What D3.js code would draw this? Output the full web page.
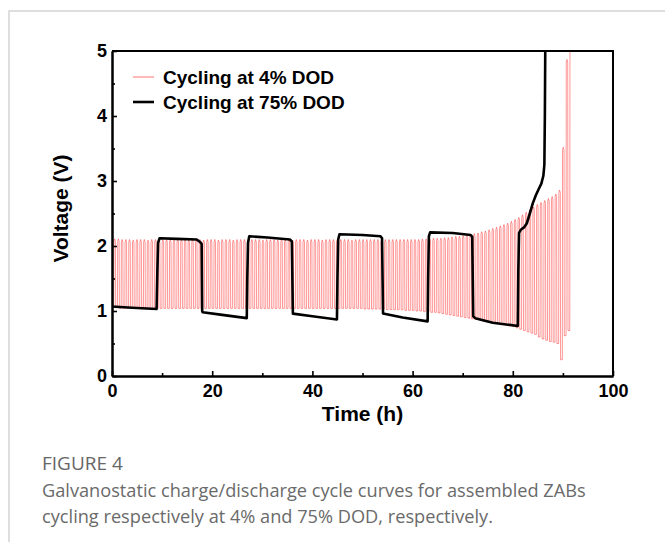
<!DOCTYPE html>
<html>
<head>
<meta charset="utf-8">
<script src="https://cdn.jsdelivr.net/npm/d3@7"></script>
<style>
  body { margin: 0; background: #fff; }
  svg text { font-family: "Liberation Sans", Arial, sans-serif; }
</style>
</head>
<body>
<script>
// 4% DOD: one entry per cycle, cycle length in hours
var cycleHours = 0.74;
var dod4Charge = [
    2.11, 2.11, 2.10, 2.10, 2.10, 2.09, 2.10, 2.10, 2.10, 2.09,
    2.10, 2.10, 2.09, 2.10, 2.10, 2.10, 2.09, 2.10, 2.10, 2.10,
    2.09, 2.10, 2.10, 2.10, 2.09, 2.10, 2.10, 2.10, 2.09, 2.10,
    2.10, 2.10, 2.09, 2.10, 2.10, 2.10, 2.09, 2.10, 2.10, 2.10,
    2.09, 2.10, 2.10, 2.10, 2.09, 2.10, 2.10, 2.10, 2.09, 2.10,
    2.10, 2.10, 2.09, 2.10, 2.10, 2.10, 2.09, 2.10, 2.10, 2.10,
    2.09, 2.10, 2.10, 2.10, 2.09, 2.10, 2.10, 2.10, 2.10, 2.10,
    2.10, 2.10, 2.10, 2.10, 2.10, 2.10, 2.10, 2.10, 2.10, 2.10,
    2.10, 2.10, 2.10, 2.11, 2.11, 2.11, 2.12, 2.12, 2.12, 2.13,
    2.13, 2.14, 2.15, 2.15, 2.16, 2.17, 2.18, 2.19, 2.20, 2.22,
    2.23, 2.25, 2.27, 2.29, 2.31, 2.33, 2.35, 2.38, 2.41, 2.44,
    2.48, 2.52, 2.56, 2.60, 2.64, 2.67, 2.70, 2.73, 2.76, 2.80,
    2.86, 3.52, 4.87, 5.40
];
var dod4Discharge = [
    1.05, 1.05, 1.04, 1.04, 1.04, 1.04, 1.04, 1.04, 1.04, 1.04,
    1.04, 1.04, 1.04, 1.04, 1.04, 1.04, 1.04, 1.04, 1.04, 1.04,
    1.04, 1.04, 1.04, 1.04, 1.04, 1.04, 1.04, 1.04, 1.04, 1.04,
    1.04, 1.04, 1.04, 1.04, 1.04, 1.04, 1.04, 1.04, 1.04, 1.04,
    1.04, 1.04, 1.04, 1.04, 1.04, 1.04, 1.04, 1.04, 1.04, 1.04,
    1.04, 1.04, 1.04, 1.04, 1.04, 1.04, 1.04, 1.04, 1.04, 1.04,
    1.04, 1.04, 1.04, 1.04, 1.04, 1.04, 1.04, 1.04, 1.03, 1.03,
    1.03, 1.03, 1.03, 1.03, 1.02, 1.02, 1.02, 1.02, 1.02, 1.01,
    1.01, 1.01, 1.00, 1.00, 0.99, 0.99, 0.98, 0.98, 0.97, 0.96,
    0.95, 0.94, 0.93, 0.92, 0.91, 0.90, 0.89, 0.88, 0.87, 0.86,
    0.84, 0.83, 0.82, 0.81, 0.80, 0.79, 0.78, 0.77, 0.76, 0.74,
    0.72, 0.70, 0.68, 0.66, 0.64, 0.60, 0.57, 0.55, 0.53, 0.52,
    0.50, 0.25, 0.62, 0.70
];

// 75% DOD curve
var dod75Time = [
    0, 4, 8.9, 9.05, 9.2, 9.5, 13, 16.9, 17.6, 17.9, 18.0, 18.1, 22, 26.9,
    27.0, 27.15, 27.4, 31, 35.5, 35.9, 36.1, 40, 44.9,
    45.0, 45.15, 45.4, 50, 53.6, 53.9, 54.1, 58, 63.0,
    63.1, 63.25, 63.5, 68, 71.6, 71.9, 72.1, 72.5, 76, 81.0,
    81.1, 81.25, 81.6, 82.3, 82.8, 83.4, 84.0, 84.6, 85.2, 85.7, 86.1, 86.3, 86.4, 86.5
];
var dod75Voltage = [
    1.07, 1.05, 1.03, 1.6, 2.05, 2.12, 2.11, 2.10, 2.06, 2.03, 1.0, 0.98, 0.94, 0.89,
    1.5, 2.05, 2.15, 2.13, 2.10, 2.07, 0.96, 0.92, 0.87,
    1.5, 2.1, 2.18, 2.17, 2.15, 2.12, 0.96, 0.90, 0.84,
    1.5, 2.15, 2.21, 2.20, 2.17, 2.14, 0.92, 0.89, 0.82, 0.77,
    1.6, 2.2, 2.25, 2.29, 2.35, 2.5, 2.66, 2.78, 2.88, 2.96, 3.08, 3.25, 4.0, 5.3
];

var xTicks      = [0, 20, 40, 60, 80, 100];
var xMinorTicks = [10, 30, 50, 70, 90];
var yTicks      = [0, 1, 2, 3, 4, 5];
var yMinorTicks = [0.5, 1.5, 2.5, 3.5, 4.5];
var legendItems = ["Cycling at 4% DOD", "Cycling at 75% DOD"];

var width  = 665;
var height = 542;
var plot   = {left: 112, right: 613, top: 51, bottom: 376};

var svg = d3
    .select("body")
    .append("svg")
    .attr("width", width)
    .attr("height", height);

// page frame
svg.append("path")
    .attr("d", "M 9 542 L 9 11 L 665 11")
    .attr("fill", "none")
    .attr("stroke", "#d4d4d4")
    .attr("stroke-width", 1.5);

var x = d3.scaleLinear().domain([0, 100]).range([plot.left, plot.right]);
var y = d3.scaleLinear().domain([0, 5]).range([plot.bottom, plot.top]);

svg.append("defs")
    .append("clipPath")
    .attr("id", "plot-clip")
    .append("rect")
    .attr("x", plot.left)
    .attr("y", plot.top)
    .attr("width", plot.right - plot.left)
    .attr("height", plot.bottom - plot.top);

// build the 4% DOD trace from the per-cycle plateaus
var dod4Points = [];
dod4Charge.forEach(function (hi, i) {
    var t0 = i * cycleHours, lo = dod4Discharge[i];
    dod4Points.push([t0, lo]);
    dod4Points.push([t0 + cycleHours * 0.47, lo]);
    dod4Points.push([t0 + cycleHours * 0.53, hi - 0.04]);
    dod4Points.push([t0 + cycleHours * 0.72, hi]);
    if (i < dod4Charge.length - 1) {
        dod4Points.push([t0 + cycleHours * 0.92, hi - 0.04]);
    }
});

var dod75Points = dod75Time.map(function (t, i) { return [t, dod75Voltage[i]]; });

var line = d3.line()
    .x(function (d) { return x(d[0]); })
    .y(function (d) { return y(d[1]); });

var curves = svg.append("g").attr("clip-path", "url(#plot-clip)");

curves.append("path")
    .attr("d", line(dod4Points))
    .attr("fill", "none")
    .attr("stroke", "#ff2a2a")
    .attr("stroke-opacity", 0.55)
    .attr("stroke-width", 0.9);

curves.append("path")
    .attr("d", line(dod75Points))
    .attr("fill", "none")
    .attr("stroke", "#000")
    .attr("stroke-width", 2.6)
    .attr("stroke-linejoin", "round");

// axes, ticks point inward
svg.append("g")
    .attr("transform", "translate(0," + plot.bottom + ")")
    .call(d3.axisBottom(x).tickValues(xTicks).tickSizeInner(-5).tickSizeOuter(0).tickPadding(8));
svg.append("g")
    .attr("transform", "translate(0," + plot.bottom + ")")
    .call(d3.axisBottom(x).tickValues(xMinorTicks).tickSizeInner(-3).tickSizeOuter(0).tickFormat(""));

svg.append("g")
    .attr("transform", "translate(" + plot.left + ",0)")
    .call(d3.axisLeft(y).tickValues(yTicks).tickFormat(d3.format("d")).tickSizeInner(-5).tickSizeOuter(0).tickPadding(5));
svg.append("g")
    .attr("transform", "translate(" + plot.left + ",0)")
    .call(d3.axisLeft(y).tickValues(yMinorTicks).tickSizeInner(-3).tickSizeOuter(0).tickFormat(""));

svg.selectAll(".domain").attr("stroke", "#000").attr("stroke-width", 2);
svg.selectAll(".tick line").attr("stroke", "#000").attr("stroke-width", 1.6);
svg.selectAll(".tick text")
    .attr("fill", "#000")
    .style("font-size", "18px")
    .style("font-weight", "bold");

// top and right border of the plot
svg.append("path")
    .attr("d", "M " + plot.left + " " + plot.top + " L " + plot.right + " " + plot.top + " L " + plot.right + " " + plot.bottom)
    .attr("fill", "none")
    .attr("stroke", "#000")
    .attr("stroke-width", 2);

svg.append("text")
    .attr("x", (plot.left + plot.right) / 2)
    .attr("y", 421)
    .attr("text-anchor", "middle")
    .style("font-size", "21px")
    .style("font-weight", "bold")
    .text("Time (h)");

svg.append("text")
    .attr("transform", "translate(68," + ((plot.top + plot.bottom) / 2 - 5) + ") rotate(-90)")
    .attr("text-anchor", "middle")
    .style("font-size", "21px")
    .style("font-weight", "bold")
    .text("Voltage (V)");

// legend
var legend = svg.append("g")
    .selectAll("g")
    .data(legendItems)
    .enter()
    .append("g")
    .attr("transform", function (d, i) { return "translate(133," + (77 + i * 25) + ")"; });

legend.append("line")
    .attr("x1", 0)
    .attr("x2", 21)
    .attr("stroke", function (d, i) { return i === 0 ? "#ff8a8a" : "#000"; })
    .attr("stroke-width", function (d, i) { return i === 0 ? 1.2 : 2.6; });

legend.append("text")
    .attr("x", 30)
    .attr("y", 6.5)
    .style("font-size", "19px")
    .style("font-weight", "bold")
    .text(function (d) { return d; });

// caption
svg.append("text")
    .attr("x", 42)
    .attr("y", 470)
    .attr("fill", "#666")
    .style("font-family", "'Open Sans', sans-serif")
    .style("font-size", "19px")
    .text("FIGURE 4");

svg.append("text")
    .attr("x", 42)
    .attr("y", 497)
    .attr("fill", "#6a6a6a")
    .style("font-family", "'Open Sans', sans-serif")
    .style("font-size", "18.2px")
    .text("Galvanostatic charge/discharge cycle curves for assembled ZABs");

svg.append("text")
    .attr("x", 42)
    .attr("y", 523)
    .attr("fill", "#6a6a6a")
    .style("font-family", "'Open Sans', sans-serif")
    .style("font-size", "18.2px")
    .text("cycling respectively at 4% and 75% DOD, respectively.");
</script>
</body>
</html>
